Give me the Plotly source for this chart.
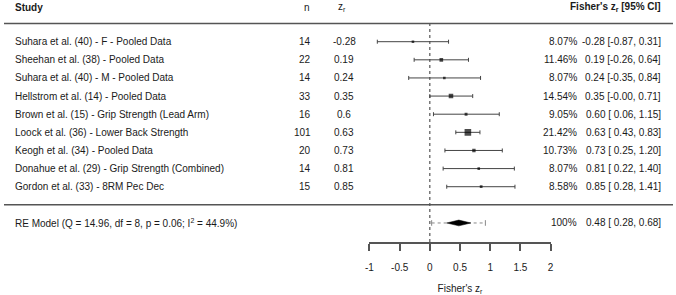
import plotly.graph_objects as go

# ---------------- data ----------------
studies = [
    "Suhara et al. (40) - F - Pooled Data",
    "Sheehan et al. (38) - Pooled Data",
    "Suhara et al. (40) - M - Pooled Data",
    "Hellstrom et al. (14) - Pooled Data",
    "Brown et al. (15) - Grip Strength (Lead Arm)",
    "Loock et al. (36) - Lower Back Strength",
    "Keogh et al. (34) - Pooled Data",
    "Donahue et al. (29) - Grip Strength (Combined)",
    "Gordon et al. (33) - 8RM Pec Dec",
]
n_vals = [14, 22, 14, 33, 16, 101, 20, 14, 15]
zr_vals = [-0.28, 0.19, 0.24, 0.35, 0.6, 0.63, 0.73, 0.81, 0.85]
est_vals = [-0.28, 0.19, 0.24, 0.35, 0.60, 0.63, 0.73, 0.81, 0.85]
ci_lo = [-0.87, -0.26, -0.35, -0.0, 0.06, 0.43, 0.25, 0.22, 0.28]
ci_hi = [0.31, 0.64, 0.84, 0.71, 1.15, 0.83, 1.20, 1.40, 1.41]
weights = [8.07, 11.46, 8.07, 14.54, 9.05, 21.42, 10.73, 8.07, 8.58]

re_est, re_lo, re_hi = 0.48, 0.28, 0.68
pi_lo, pi_hi = 0.03, 0.92
re_Q, re_df, re_p, re_I2 = 14.96, 8, 0.06, 44.9

tick_vals = [-1, -0.5, 0, 0.5, 1, 1.5, 2]
tick_text = ["-1", "-0.5", "0", "0.5", "1", "1.5", "2"]

# ---------------- layout helpers ----------------
W, H = 676, 295
k = len(studies)
rows = list(range(k, 0, -1))  # k .. 1
re_row = -1
header_row = k + 1.9
TXT = "#1a1a1a"
LINE = "#555555"
FONT = "Liberation Sans, Arial, sans-serif"
FS = 10

def px(x):
    return x / W

fig = go.Figure()

# study points with CI
wmin, wmax = min(weights), max(weights)
sizes = [2.6 + (w - wmin) / (wmax - wmin) * 4.0 for w in weights]
fig.add_trace(go.Scatter(
    x=est_vals, y=rows, mode="markers",
    marker=dict(symbol="square", size=sizes, color="black", line=dict(width=0)),
    error_x=dict(type="data", symmetric=False,
                 array=[h - e for h, e in zip(ci_hi, est_vals)],
                 arrayminus=[e - l for e, l in zip(est_vals, ci_lo)],
                 thickness=1, width=2, color="#444444"),
    hoverinfo="skip", showlegend=False,
))

# prediction interval (dotted) with caps
fig.add_trace(go.Scatter(
    x=[pi_lo, pi_hi], y=[re_row, re_row], mode="lines+markers",
    line=dict(color="#888888", width=1, dash="dot"),
    marker=dict(symbol="line-ns-open", size=4, line=dict(color="#888888", width=1)),
    hoverinfo="skip", showlegend=False,
))

# summary diamond
dh = 0.16
fig.add_trace(go.Scatter(
    x=[re_lo, re_est, re_hi, re_est, re_lo],
    y=[re_row, re_row + dh, re_row, re_row - dh, re_row],
    mode="lines", fill="toself", fillcolor="black",
    line=dict(color="black", width=0.5),
    hoverinfo="skip", showlegend=False,
))

# lines
shapes = [
    dict(type="line", xref="paper", yref="y", x0=0, x1=1, y0=k + 1, y1=k + 1,
         line=dict(color=LINE, width=1.5)),
    dict(type="line", xref="paper", yref="y", x0=0, x1=1, y0=0, y1=0,
         line=dict(color=LINE, width=1.5)),
    dict(type="line", xref="x", yref="y", x0=0, x1=0, y0=-2.05, y1=k + 1,
         line=dict(color="#333333", width=1, dash="dot"), layer="below"),
]

ann = []
def add_text(x, y, text, anchor, bold=False):
    ann.append(dict(xref="paper", yref="y", x=px(x), y=y, text=(f"<b>{text}</b>" if bold else text),
                    xanchor=anchor, yanchor="middle", showarrow=False,
                    font=dict(family=FONT, size=FS, color=TXT)))

# headers
add_text(9, header_row, "Study", "left", bold=True)
add_text(306, header_row, "n", "center")
add_text(342, header_row, "z<sub>r</sub>", "center")
add_text(666, header_row, "Fisher's z<sub>r</sub> [95% CI]", "right", bold=True)

for i in range(k):
    r = rows[i]
    add_text(9, r, studies[i], "left")
    add_text(312, r, str(n_vals[i]), "right")
    add_text(344, r, str(zr_vals[i]), "center")
    add_text(581, r, f"{weights[i]:.2f}%", "right")
    add_text(666, r, f"{est_vals[i]:.2f} [{ci_lo[i]:5.2f}, {ci_hi[i]:.2f}]", "right")

add_text(9, re_row, f"RE Model (Q = {re_Q:.2f}, df = {re_df}, p = {re_p:.2f}; I<sup>2</sup> = {re_I2:.1f}%)", "left")
add_text(581, re_row, "100%", "right")
add_text(666, re_row, f"{re_est:.2f} [{re_lo:5.2f}, {re_hi:.2f}]", "right")

x0_px = 369.3
x1_px = 552.3
fig.update_layout(
    width=W, height=H,
    margin=dict(l=0, r=0, t=0, b=53, pad=0),
    paper_bgcolor="white", plot_bgcolor="white",
    shapes=shapes, annotations=ann,
    font=dict(family=FONT, size=FS, color=TXT),
    xaxis=dict(domain=[x0_px / W, x1_px / W], range=[-1, 2],
               showgrid=False, zeroline=False, showline=True, linecolor=LINE, linewidth=1.5,
               ticks="outside", ticklen=7, tickwidth=1.5, tickcolor=LINE,
               tickvals=tick_vals, ticktext=tick_text,
               tickfont=dict(family=FONT, size=FS, color=TXT),
               ticklabelstandoff=8,
               title=dict(text="Fisher's z<sub>r</sub>", font=dict(family=FONT, size=FS, color=TXT), standoff=13)),
    yaxis=dict(range=[-2.05, 11.3], visible=False, showgrid=False, zeroline=False),
)

fig.write_html("out.html", config={"displayModeBar": False},
               post_script="document.body.style.margin='0px';document.body.style.overflow='hidden';")
